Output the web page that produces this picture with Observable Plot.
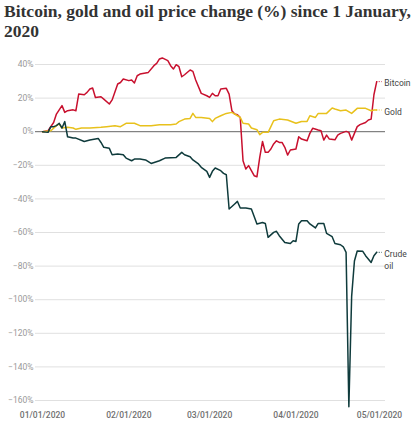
<!DOCTYPE html>
<html>
<head>
<meta charset="utf-8">
<script src="https://cdn.jsdelivr.net/npm/d3@7"></script>
<script src="https://cdn.jsdelivr.net/npm/@observablehq/plot@0.6"></script>
<style>
  body { margin: 0; background: #fff; }
  #title {
    font-family: "Liberation Serif", "DejaVu Serif", serif;
    font-weight: bold;
    font-size: 17.5px;
    line-height: 20px;
    color: #333;
    padding: 1px 0 0 4px;
    height: 50px;
    box-sizing: border-box;
  }
  #chart svg { display: block; }
</style>
</head>
<body>
<div id="title">Bitcoin, gold and oil price change (%) since 1 January,<br>2020</div>
<div id="chart"></div>
<script>
// Percentage change since 1 January 2020
const bitcoinDates = ["2020-01-01","2020-01-03","2020-01-05","2020-01-06","2020-01-08","2020-01-09","2020-01-10","2020-01-12","2020-01-13","2020-01-14","2020-01-16","2020-01-17","2020-01-18","2020-01-19","2020-01-20","2020-01-22","2020-01-23","2020-01-25","2020-01-26","2020-01-28","2020-01-29","2020-01-30","2020-02-01","2020-02-02","2020-02-03","2020-02-04","2020-02-05","2020-02-08","2020-02-10","2020-02-11","2020-02-12","2020-02-13","2020-02-15","2020-02-16","2020-02-17","2020-02-18","2020-02-19","2020-02-20","2020-02-21","2020-02-23","2020-02-24","2020-02-25","2020-02-27","2020-02-29","2020-03-01","2020-03-02","2020-03-03","2020-03-04","2020-03-05","2020-03-07","2020-03-08","2020-03-09","2020-03-10","2020-03-11","2020-03-12","2020-03-13","2020-03-14","2020-03-15","2020-03-16","2020-03-17","2020-03-18","2020-03-19","2020-03-20","2020-03-21","2020-03-22","2020-03-23","2020-03-24","2020-03-25","2020-03-26","2020-03-27","2020-03-28","2020-03-29","2020-03-30","2020-04-01","2020-04-02","2020-04-03","2020-04-05","2020-04-06","2020-04-07","2020-04-09","2020-04-10","2020-04-11","2020-04-12","2020-04-13","2020-04-15","2020-04-16","2020-04-17","2020-04-19","2020-04-20","2020-04-21","2020-04-22","2020-04-23","2020-04-24","2020-04-26","2020-04-27","2020-04-28","2020-04-29","2020-04-30"];
const bitcoinValues = [0,0.6,5.5,10.5,15.5,11.5,12.5,13,12.5,22.4,22,23.4,25.4,26,20.4,20.8,19.4,16.5,18.9,28.4,29.3,31.4,30.4,30.8,29,33.3,34.3,35.3,39.3,40.7,43.3,43.9,42.3,39.3,37.3,39.9,38.7,32.7,33.9,36.7,35.9,30.8,22.8,21.4,20.4,22.8,21.4,21.4,25.4,25.8,22.4,12.5,10.5,10.1,8.5,-17.3,-22.2,-20.2,-23.2,-26.2,-26.8,-15.3,-5.8,-12.3,-12.3,-10.3,-7.3,-5.4,-6.4,-6.4,-9.3,-13.9,-10.9,-10.3,-3,-4.4,-5.4,-1,2,1,0.6,-5,-2,-4.4,-4.8,-2,-1,0.2,-0.4,-5,-1,3,4.2,5.5,7,7.5,22,29.8];

const goldDates = ["2020-01-01","2020-01-04","2020-01-06","2020-01-07","2020-01-08","2020-01-10","2020-01-12","2020-01-13","2020-01-15","2020-01-18","2020-01-22","2020-01-24","2020-01-27","2020-01-29","2020-01-31","2020-02-03","2020-02-05","2020-02-09","2020-02-12","2020-02-16","2020-02-18","2020-02-19","2020-02-21","2020-02-23","2020-02-24","2020-02-25","2020-02-27","2020-03-01","2020-03-02","2020-03-03","2020-03-05","2020-03-07","2020-03-09","2020-03-11","2020-03-12","2020-03-13","2020-03-15","2020-03-16","2020-03-18","2020-03-19","2020-03-20","2020-03-22","2020-03-23","2020-03-24","2020-03-26","2020-03-29","2020-04-01","2020-04-03","2020-04-05","2020-04-06","2020-04-08","2020-04-09","2020-04-12","2020-04-14","2020-04-15","2020-04-17","2020-04-19","2020-04-21","2020-04-23","2020-04-26","2020-04-28","2020-04-29","2020-04-30"];
const goldValues = [0,0.6,3.6,4.6,2.2,2.6,2.2,1.4,2.2,2.2,2.6,3,3.6,3,5,5,3.6,3.6,4.2,4.2,4.6,6,7.5,7.9,10.9,8.5,8.5,7.9,6,7.9,9.5,10.9,11.5,9.5,8.5,5,4.6,2.2,1.2,-1.8,-0.4,-0.4,3,6.5,7.5,7,5,6.1,6.1,9.5,8.5,10.9,10.9,14.1,13.5,12.5,12.9,10.9,13.9,13.9,12.5,12.9,12.9];

const oilDates = ["2020-01-01","2020-01-03","2020-01-04","2020-01-05","2020-01-06","2020-01-07","2020-01-08","2020-01-09","2020-01-10","2020-01-12","2020-01-13","2020-01-16","2020-01-18","2020-01-21","2020-01-22","2020-01-23","2020-01-25","2020-01-26","2020-01-28","2020-01-30","2020-01-31","2020-02-02","2020-02-03","2020-02-05","2020-02-07","2020-02-09","2020-02-12","2020-02-14","2020-02-18","2020-02-20","2020-02-21","2020-02-23","2020-02-24","2020-02-26","2020-02-27","2020-02-29","2020-03-01","2020-03-02","2020-03-03","2020-03-05","2020-03-06","2020-03-07","2020-03-08","2020-03-10","2020-03-11","2020-03-12","2020-03-14","2020-03-16","2020-03-18","2020-03-20","2020-03-21","2020-03-22","2020-03-24","2020-03-25","2020-03-26","2020-03-28","2020-03-30","2020-03-31","2020-04-01","2020-04-02","2020-04-03","2020-04-05","2020-04-06","2020-04-08","2020-04-09","2020-04-11","2020-04-12","2020-04-14","2020-04-15","2020-04-17","2020-04-18","2020-04-19","2020-04-20","2020-04-21","2020-04-22","2020-04-23","2020-04-25","2020-04-26","2020-04-28","2020-04-29","2020-04-30"];
const oilValues = [0,-0.4,3,3,3.6,5,2.2,6,-3,-3.8,-3.8,-5.8,-5,-4,-6.4,-9.3,-9.9,-13.7,-13.3,-13.7,-15.7,-17.3,-16.3,-16.3,-16.8,-18.9,-17.3,-15.7,-15.3,-12.3,-13.7,-14.9,-16.8,-19.2,-21.2,-23.6,-27.2,-23.6,-21.6,-23.2,-24.8,-25.6,-46,-43,-41.5,-45.4,-45.4,-46,-54.9,-54,-54.6,-62.9,-59.9,-59.3,-61.9,-65.9,-66.5,-64.9,-65.3,-54.9,-53,-53,-54.9,-57.3,-54.6,-54.6,-60.5,-62.5,-66.5,-67.3,-68.5,-71.8,-163.7,-98,-77,-71,-71.2,-73.8,-77.8,-73.8,-71.8];

const seriesNames = ["Bitcoin", "Gold", "Crude\noil"];
const seriesColors = ["#c8102e", "#e8c11c", "#0f3b3c"];
const yTicks = [40, 20, 0, -20, -40, -60, -80, -100, -120, -140, -160];
const xTicks = ["2020-01-01", "2020-02-01", "2020-03-01", "2020-04-01", "2020-05-01"];

const parse = d3.utcParse("%Y-%m-%d");
const toRows = (name, dates, values) =>
  dates.map((d, i) => ({series: name, date: parse(d), value: values[i]}));

const all = [
  toRows(seriesNames[0], bitcoinDates, bitcoinValues),
  toRows(seriesNames[1], goldDates, goldValues),
  toRows(seriesNames[2], oilDates, oilValues)
];
const data = all.flat();

// End-of-line leaders and labels
const ends = all.map(rows => {
  const last = rows[rows.length - 1];
  return {...last, date2: d3.utcDay.offset(last.date, 2)};
});

const tickFont = "Roboto, 'Noto Sans', sans-serif";

const chart = Plot.plot({
  width: 417,
  height: 375,
  marginLeft: 35,
  marginRight: 32,
  marginTop: 14,
  marginBottom: 25,
  style: {fontFamily: tickFont, background: "#fff", overflow: "visible"},
  x: {type: "utc", domain: [parse(xTicks[0]), parse(xTicks[4])], range: [42, 379]},
  y: {domain: [-160, 40]},
  color: {domain: seriesNames, range: seriesColors},
  marks: [
    Plot.ruleY(yTicks.filter(d => d !== 0), {stroke: "#e0e0e0", strokeWidth: 1}),
    Plot.ruleY([0], {stroke: "#666", strokeWidth: 1}),
    Plot.axisY({
      ticks: yTicks,
      tickSize: 0,
      tickPadding: 2,
      fontSize: 8.5,
      fill: "#999",
      tickFormat: d => (d < 0 ? "\u2212" : "") + Math.abs(d) + "%",
      label: null
    }),
    Plot.axisX({
      ticks: xTicks.map(parse),
      tickSize: 0,
      tickPadding: 11,
      fontSize: 8.5,
      fontWeight: 500,
      fill: "#6f6f6f",
      tickFormat: d3.utcFormat("%m/%d/%Y"),
      label: null
    }),
    Plot.line(data, {x: "date", y: "value", z: "series", stroke: "series", strokeWidth: 1.5, curve: "linear"}),
    Plot.ruleY(ends, {x1: "date", x2: "date2", y: "value", stroke: "series", strokeWidth: 1, strokeDasharray: "1,1.5"}),
    Plot.text(ends, {
      x: "date2", y: "value", text: "series",
      textAnchor: "start", lineAnchor: "top", dx: 2, dy: -4,
      fontSize: 8.5, fill: "#444", lineHeight: 1.45
    })
  ]
});
document.getElementById("chart").appendChild(chart);
</script>
</body>
</html>
